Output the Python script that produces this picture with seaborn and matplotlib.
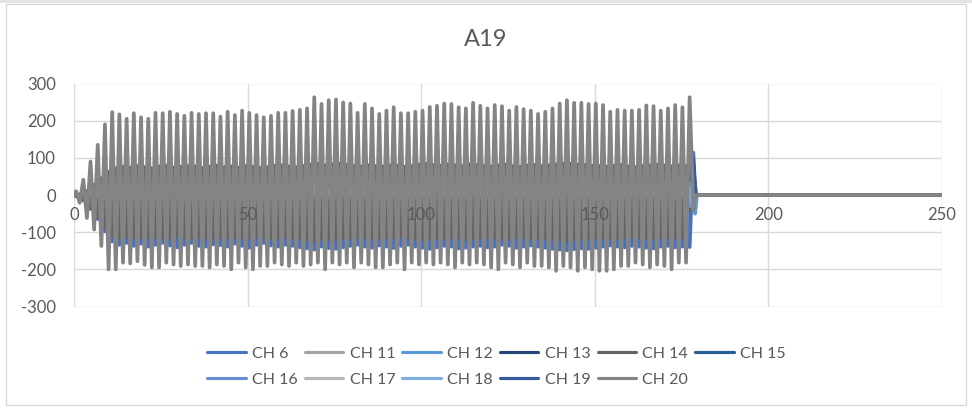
import numpy as np
import pandas as pd
import matplotlib
matplotlib.use("Agg")
import matplotlib.pyplot as plt
from matplotlib.lines import Line2D
from matplotlib.patches import Rectangle
import seaborn as sns

# ---------------- data ----------------
TITLE = "A19"
SERIES = ["CH 6", "CH 11", "CH 12", "CH 13", "CH 14", "CH 15",
          "CH 16", "CH 17", "CH 18", "CH 19", "CH 20"]
COLORS = ["#4472C4", "#A5A5A5", "#5B9BD5", "#264478", "#636363", "#255E91",
          "#698ED0", "#B7B7B7", "#7CAFDD", "#335AA1", "#848484"]
X_TICKS = [0, 50, 100, 150, 200, 250]
Y_TICKS = [-300, -200, -100, 0, 100, 200, 300]

FIRST_EXTREMUM_X = 0.6      # first oscillation extremum
CYCLE_LENGTH = 2.079        # 86 cycles between x=0.6 and x=177.3

# CH 20 (top, largest oscillation): successive peaks and troughs
CH20_PEAKS = [10, 41, 90, 135, 190, 223, 217, 205, 220, 209, 205, 221, 220, 224, 218, 213, 221, 218, 220, 220, 211,
              224, 215, 227, 221, 215, 209, 213, 221, 221, 226, 229, 233, 263, 245, 255, 257, 249, 246, 221, 245, 233, 218,
              227, 236, 220, 220, 224, 227, 237, 240, 246, 245, 236, 233, 248, 240, 233, 242, 239, 227, 237, 231, 227,
              218, 224, 233, 246, 255, 248, 248, 245, 246, 242, 224, 229, 227, 227, 229, 241, 239, 227, 233, 242, 236, 263]
CH20_TROUGHS = [-21, -62, -93, -137, -200, -200, -182, -184, -178, -188, -195, -195, -182, -187, -191, -187, -191, -191, -195, -187,
                -191, -200, -182, -195, -200, -191, -191, -182, -187, -191, -182, -191, -187, -182, -200, -182, -187, -182, -195, -182, -187, -195,
                -195, -187, -182, -200, -182, -187, -182, -187, -182, -187, -195, -182, -187, -182, -187, -195, -200, -182, -187, -195, -182, -191,
                -191, -195, -204, -191, -195, -204, -195, -200, -204, -204, -200, -191, -191, -182, -187, -195, -187, -191, -200, -182, -182]
CH20_TAIL_X = [178.4, 179.0, 250]
CH20_TAIL_Y = [-40, 0, 0]

# CH 6 (opposite phase, seen in the lower gaps)
CH6_TROUGHS = [-3, -15, -38, -65, -98, -125, -134, -129, -137, -131,
               -139, -134, -129, -136, -141, -134, -129, -137, -139, -133,
               -135, -139, -131, -137, -142, -134, -129, -136, -139, -134,
               -137, -141, -144, -147, -139, -143, -145, -141, -137, -134,
               -139, -142, -136, -139, -143, -137, -134, -139, -142, -145,
               -141, -137, -139, -144, -142, -139, -137, -141, -139, -134,
               -137, -142, -139, -136, -139, -142, -145, -147, -149, -146,
               -144, -145, -142, -139, -136, -139, -141, -137, -139, -142,
               -144, -139, -137, -141, -139, -140]
CH6_PEAKS = [2, 10, 25, 40, 55, 65, 70, 68, 72, 70,
             66, 71, 73, 69, 70, 74, 72, 68, 71, 73,
             70, 72, 69, 74, 71, 68, 70, 73, 75, 72,
             70, 74, 78, 80, 76, 79, 81, 77, 75, 72,
             76, 74, 73, 77, 75, 72, 74, 78, 80, 77,
             75, 78, 76, 74, 79, 77, 75, 73, 76, 78,
             74, 72, 75, 77, 74, 76, 79, 81, 80, 78,
             77, 75, 74, 72, 75, 77, 73, 71, 74, 76,
             78, 75, 73, 76, 74, 114]
CH6_TAIL_X = [178.8, 179.2, 250]
CH6_TAIL_Y = [35, 0, 0]

# CH 14 (opposite phase, fills the middle band)
CH14_TROUGHS = [-2, -12, -35, -60, -90, -110, -115, -112, -116, -113,
                -110, -114, -117, -113, -111, -115, -116, -112, -114, -117,
                -113, -115, -112, -116, -114, -111, -113, -117, -115, -112,
                -114, -118, -120, -122, -117, -119, -121, -116, -114, -112,
                -115, -117, -114, -116, -113, -111, -115, -118, -120, -117,
                -115, -118, -116, -114, -119, -117, -115, -113, -116, -118,
                -114, -112, -115, -117, -114, -116, -119, -121, -123, -120,
                -118, -117, -116, -114, -115, -117, -113, -112, -114, -116,
                -118, -115, -113, -116, -114, -40]
CH14_PEAKS = [1, 10, 28, 45, 62, 72, 76, 74, 78, 75,
              72, 77, 79, 74, 76, 78, 77, 73, 76, 79,
              75, 77, 74, 78, 76, 73, 75, 79, 80, 77,
              75, 78, 82, 84, 80, 83, 85, 81, 79, 77,
              80, 78, 77, 80, 79, 76, 78, 82, 84, 81,
              79, 82, 80, 78, 83, 81, 79, 77, 80, 82,
              78, 76, 79, 81, 78, 80, 83, 85, 84, 82,
              81, 79, 78, 76, 79, 81, 77, 75, 78, 80,
              82, 79, 77, 80, 78, 20]
CH14_TAIL_X = [179.0, 250]
CH14_TAIL_Y = [0, 0]

# channels that only show at the end of the record
CH11_X = [176.2, 177.3, 178.3, 179.0, 250]
CH11_Y = [-20, 30, -10, 0, 0]
CH12_X = [176.2, 177.3, 178.3, 178.9, 179.4, 250]
CH12_Y = [-60, 30, 60, -50, 0, 0]
CH13_X = [177.3, 178.3, 179.0, 250]
CH13_Y = [20, -15, 0, 0]
CH15_X = [177.3, 178.3, 179.0, 250]
CH15_Y = [40, 90, 0, 0]
CH16_X = [177.3, 178.3, 179.0, 250]
CH16_Y = [-30, 20, 0, 0]
CH17_X = [177.3, 178.3, 179.0, 250]
CH17_Y = [15, -20, 0, 0]
CH18_X = [176.2, 177.3, 178.3, 179.0, 250]
CH18_Y = [-40, 20, -35, 0, 0]
CH19_X = [177.3, 178.3, 179.0, 250]
CH19_Y = [50, 100, 0, 0]


# ---------------- build long-form table ----------------
def oscillation(first, second, tail_x, tail_y):
    vals = []
    for i in range(max(len(first), len(second))):
        if i < len(first):
            vals.append(first[i])
        if i < len(second):
            vals.append(second[i])
    half = CYCLE_LENGTH / 2.0
    xs = [0.0] + [FIRST_EXTREMUM_X + k * half for k in range(len(vals))] + list(tail_x)
    ys = [0.0] + vals + list(tail_y)
    return xs, ys


series_xy = {
    "CH 6": oscillation(CH6_TROUGHS, CH6_PEAKS, CH6_TAIL_X, CH6_TAIL_Y),
    "CH 11": (CH11_X, CH11_Y),
    "CH 12": (CH12_X, CH12_Y),
    "CH 13": (CH13_X, CH13_Y),
    "CH 14": oscillation(CH14_TROUGHS, CH14_PEAKS, CH14_TAIL_X, CH14_TAIL_Y),
    "CH 15": (CH15_X, CH15_Y),
    "CH 16": (CH16_X, CH16_Y),
    "CH 17": (CH17_X, CH17_Y),
    "CH 18": (CH18_X, CH18_Y),
    "CH 19": (CH19_X, CH19_Y),
    "CH 20": oscillation(CH20_PEAKS, CH20_TROUGHS, CH20_TAIL_X, CH20_TAIL_Y),
}

rows = []
for name in SERIES:
    xs, ys = series_xy[name]
    for order, (xv, yv) in enumerate(zip(xs, ys)):
        rows.append((name, order, xv, yv))
df = pd.DataFrame(rows, columns=["series", "order", "x", "y"])

# ---------------- plot ----------------
sns.set_style("white")
plt.rcParams["font.family"] = ["Lato", "DejaVu Sans"]
TEXT = "#595959"
GRID = "#D9D9D9"

fig = plt.figure(figsize=(9.72, 4.08), dpi=100)
ax = fig.add_axes([74 / 972, 1 - 306.5 / 408, (942 - 74) / 972, (306.5 - 83.5) / 408])

palette = dict(zip(SERIES, COLORS))
sns.lineplot(data=df, x="x", y="y", hue="series", hue_order=SERIES, palette=palette,
             estimator=None, sort=False, units="series", linewidth=2.7, legend=False, ax=ax)
for ln in ax.get_lines():
    ln.set_solid_joinstyle("round")

ax.set_xlim(X_TICKS[0], X_TICKS[-1])
ax.set_ylim(Y_TICKS[0], Y_TICKS[-1])
ax.set_xticks(X_TICKS)
ax.set_yticks(Y_TICKS)
ax.set_xticklabels([])
ax.set_yticklabels([str(v) for v in Y_TICKS])
ax.set_axisbelow(True)
ax.grid(True, color=GRID, linewidth=1.0)
for s in ax.spines.values():
    s.set_visible(False)
ax.tick_params(axis="both", length=0)
ax.tick_params(axis="y", labelsize=12, labelcolor=TEXT, pad=13)
ax.set_xlabel("")
ax.set_ylabel("")

for t in X_TICKS:
    ax.annotate(str(t), (t, 0), xytext=(0, -9), textcoords="offset points",
                ha="center", va="top", fontsize=12, color=TEXT, zorder=6,
                annotation_clip=False)

fig.text(0.5, 1 - 39.5 / 408, TITLE, ha="center", va="center", fontsize=17, color=TEXT)

# legend laid out row by row (6 per row)
handles = [Line2D([0], [0], color=c, lw=2.25) for c in COLORS]
order = [0, 6, 1, 7, 2, 8, 3, 9, 4, 10, 5]
leg = fig.legend([handles[i] for i in order], [SERIES[i] for i in order],
                 ncol=6, loc="center", bbox_to_anchor=(496.5 / 972, 1 - 366.5 / 408),
                 frameon=False, fontsize=11.5, handlelength=2.4, handletextpad=0.4,
                 columnspacing=0.45, labelspacing=0.75)
for txt in leg.get_texts():
    txt.set_color(TEXT)

# chart-area border
fig.patches.append(Rectangle((0, 1 - 3 / 408), 1, 3 / 408, transform=fig.transFigure,
                             facecolor="#E3E3E3", edgecolor="none", zorder=0))
fig.patches.append(Rectangle((6 / 972, 3 / 408), 960 / 972, 401 / 408, transform=fig.transFigure,
                             facecolor="none", edgecolor=GRID, lw=1.0, zorder=0))

fig.savefig("out.png", dpi=100)
